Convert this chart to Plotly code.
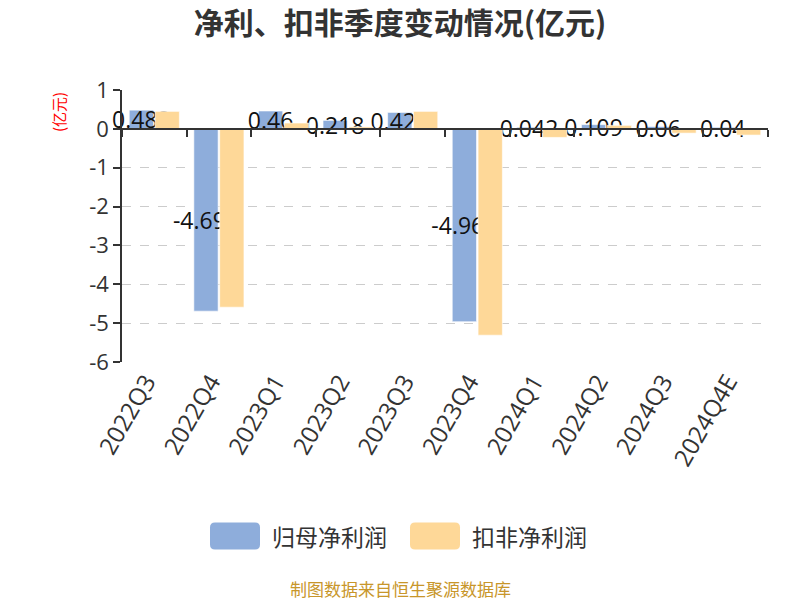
import plotly.graph_objects as go

categories = ["2022Q3", "2022Q4", "2023Q1", "2023Q2", "2023Q3", "2023Q4",
              "2024Q1", "2024Q2", "2024Q3", "2024Q4E"]
net_profit = [0.482, -4.692, 0.46, 0.218, 0.423, -4.963, 0.042, 0.109, 0.06, 0.04]
deducted_profit = [0.45, -4.59, 0.15, 0.05, 0.45, -5.31, -0.22, 0.09, -0.11, -0.16]
series_names = ["归母净利润", "扣非净利润"]
y_ticks = [1, 0, -1, -2, -3, -4, -5, -6]

BLUE = "#8eaddb"
ORANGE = "#fed898"
FONT = "Open Sans, Noto Sans CJK SC"
CJK = "Noto Sans CJK SC"

# plot area in page pixels
PL, PR, PT, PB = 122, 768, 90, 362
PW, PH = PR - PL, PB - PT


def px(x):
    return (x - PL) / PW


def py(y):
    return (PB - y) / PH


fig = go.Figure()
fig.add_trace(go.Bar(
    x=categories, y=net_profit, name=series_names[0],
    marker=dict(color=BLUE, line=dict(color="rgba(255,255,255,0.6)", width=1)),
    text=[str(v) for v in net_profit], textposition="inside", textangle=0,
    insidetextanchor="middle", constraintext="none",
    insidetextfont=dict(color="#111", size=23, family=FONT),
    cliponaxis=False, showlegend=False, hoverinfo="x+y",
))
fig.add_trace(go.Bar(
    x=categories, y=deducted_profit, name=series_names[1],
    marker=dict(color=ORANGE, line=dict(color="rgba(255,255,255,0.6)", width=1)),
    showlegend=False, hoverinfo="x+y",
))
# invisible carrier so the bottom label axis is drawn
fig.add_trace(go.Scatter(x=categories, y=[None] * len(categories), xaxis="x2",
                         yaxis="y", mode="markers", showlegend=False, hoverinfo="skip"))

zero_pos = (0 - min(y_ticks)) / (max(y_ticks) - min(y_ticks))

fig.update_layout(
    width=800, height=600,
    margin=dict(l=PL, r=800 - PR, t=PT, b=600 - PB),
    paper_bgcolor="white", plot_bgcolor="white",
    font=dict(family=FONT, color="#333"),
    barmode="group", bargap=0.2, bargroupgap=0.06,
    title=dict(text="<b>净利、扣非季度变动情况(亿元)</b>", x=0.5, xanchor="center",
               y=1 - 23 / 600, yanchor="middle", font=dict(size=30, color="#333", family=CJK)),
    xaxis=dict(
        type="category", anchor="free", position=zero_pos,
        showline=True, linecolor="#333", linewidth=1.5,
        ticks="outside", tickson="boundaries", ticklen=7, tickcolor="#333", tickwidth=1.5,
        showticklabels=False, showgrid=False, zeroline=False,
        range=[-0.5, len(categories) - 0.5],
    ),
    xaxis2=dict(
        type="category", overlaying="x", matches="x", anchor="y", side="bottom",
        showline=False, ticks="", showgrid=False, zeroline=False,
        tickangle=-60, tickfont=dict(size=24, color="#333", family=FONT),
        tickmode="array", tickvals=categories, ticktext=categories,
        ticklabelstandoff=0, ticklabelshift=-8,
    ),
    yaxis=dict(
        range=[min(y_ticks), max(y_ticks)], tickmode="array", tickvals=y_ticks,
        ticktext=[str(v) for v in y_ticks],
        showline=True, linecolor="#333", linewidth=1.5,
        ticks="outside", ticklen=7, tickcolor="#333", tickwidth=1.5,
        showgrid=True, gridcolor="#cccccc", griddash="dash", gridwidth=1.2,
        zeroline=False, tickfont=dict(size=22, color="#333", family=FONT),
    ),
)

# y axis unit name
fig.add_annotation(text="(亿元)", xref="paper", yref="paper", x=px(58), y=py(90),
                   xanchor="center", yanchor="top", textangle=-90, showarrow=False,
                   font=dict(size=15, color="red", family=CJK))


def rounded_rect(x0, y0, x1, y1, r):
    # page pixel coords -> paper path with rounded corners
    pts = [
        f"M {px(x0 + r)},{py(y0)}",
        f"L {px(x1 - r)},{py(y0)}",
        f"Q {px(x1)},{py(y0)} {px(x1)},{py(y0 + r)}",
        f"L {px(x1)},{py(y1 - r)}",
        f"Q {px(x1)},{py(y1)} {px(x1 - r)},{py(y1)}",
        f"L {px(x0 + r)},{py(y1)}",
        f"Q {px(x0)},{py(y1)} {px(x0)},{py(y1 - r)}",
        f"L {px(x0)},{py(y0 + r)}",
        f"Q {px(x0)},{py(y0)} {px(x0 + r)},{py(y0)}",
        "Z",
    ]
    return " ".join(pts)


# custom legend
legend_y = 536
for i, (name, col) in enumerate(zip(series_names, [BLUE, ORANGE])):
    x0 = 210 + i * 200
    fig.add_shape(type="path", xref="paper", yref="paper",
                  path=rounded_rect(x0, legend_y - 13.5, x0 + 50, legend_y + 13.5, 5),
                  fillcolor=col, line=dict(width=0), layer="above")
    fig.add_annotation(text=name, xref="paper", yref="paper",
                       x=px(x0 + 60), y=py(legend_y),
                       xanchor="left", yanchor="middle", showarrow=False,
                       font=dict(size=23, color="#333", family=CJK))

fig.add_annotation(text="制图数据来自恒生聚源数据库", xref="paper", yref="paper",
                   x=px(400), y=py(588), xanchor="center",
                   yanchor="middle", showarrow=False,
                   font=dict(size=17, color="#c8962a", family=CJK))

fig.write_html("out.html", config={"displayModeBar": False},
               post_script="document.body.style.margin='0';")
